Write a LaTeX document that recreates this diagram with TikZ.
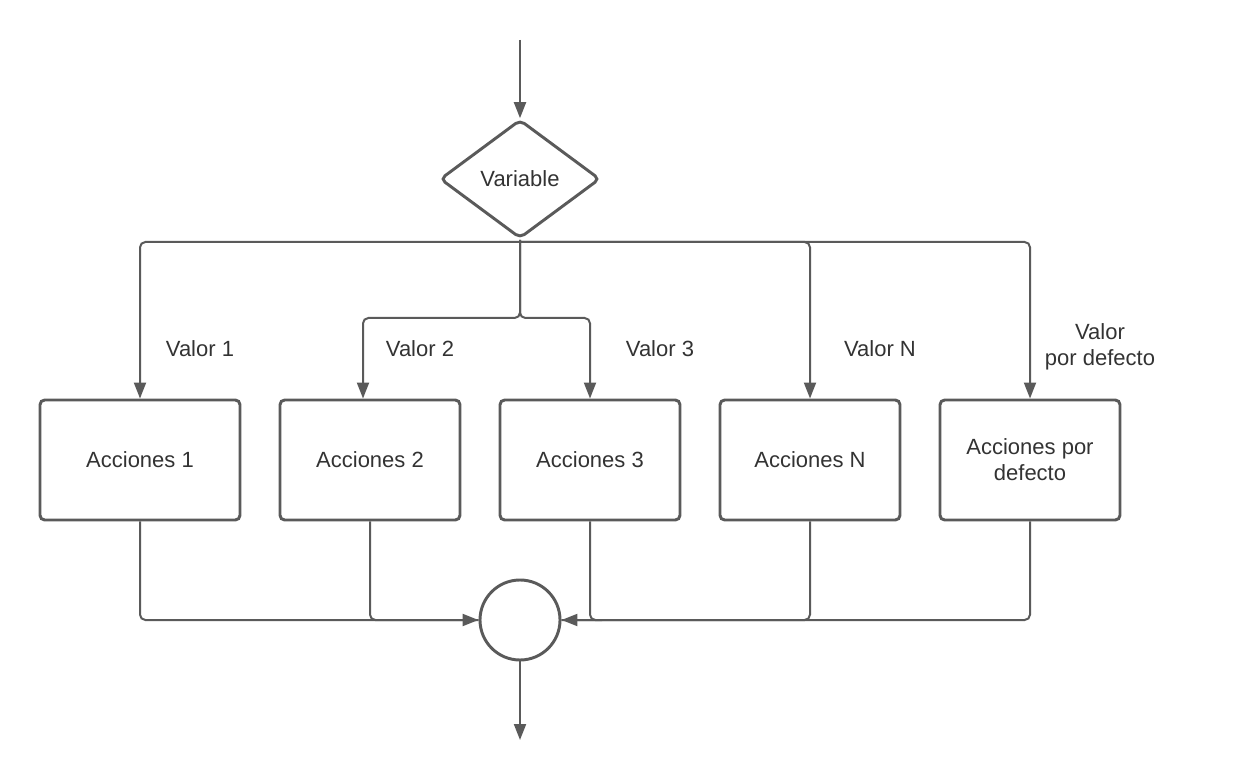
\documentclass[tikz,border=0pt]{standalone}
\usepackage{fontspec}
\setmainfont{Liberation Sans}
\usetikzlibrary{shapes.geometric,arrows.meta,calc}
\definecolor{linegray}{HTML}{5A5A5A}
\definecolor{txtgray}{HTML}{333333}
\begin{document}
\begin{tikzpicture}[x=0.75pt,y=-0.75pt,
  every node/.style={font=\fontsize{16.5}{19.5}\selectfont, text=txtgray},
  conn/.style={draw=linegray, line width=1.5pt, rounded corners=4pt},
  arr/.style={-{Triangle[length=12pt,width=9pt]}},
  actbox/.style={draw=linegray, line width=2.2pt, rounded corners=3.5pt, fill=white,
     minimum height=90pt, minimum width=135pt, align=center, inner sep=0pt},
  decis/.style={diamond, draw=linegray, line width=2.2pt, rounded corners=4pt, fill=white,
     minimum width=120pt, minimum height=89pt, aspect=1.345, inner sep=0pt},
  joinc/.style={circle, draw=linegray, line width=2.2pt, minimum size=60pt, inner sep=0pt, fill=white},
  lbl/.style={align=center, inner sep=0pt}
]
\useasboundingbox (0,0) rectangle (1260,777);

\coordinate (start) at (520,40);
\node[decis] (d) at (520,179) {Variable};

\node[actbox, minimum width=150pt] (b1) at (140,460) {Acciones 1};
\node[actbox] (b2) at (370,460) {Acciones 2};
\node[actbox] (b3) at (590,460) {Acciones 3};
\node[actbox] (bN) at (810,460) {Acciones N};
\node[actbox] (bD) at (1030,460) {Acciones por\\defecto};

\node[joinc] (c) at (520,620) {};
\coordinate (cend) at (520,740);

\coordinate (jt) at (520,242);
\coordinate (jm) at (520,318);
\coordinate (b2in) at ($(b2.north)+(-7,0)$);
\coordinate (b3j) at (602,620);

% top
\draw[conn,arr] (start) -- (d.north);
\draw[conn] (d.south) -- (jt);
\draw[conn,arr] (jt) -| (b1.north);
\draw[conn,arr] (jt) -| (bN.north);
\draw[conn,arr] (jt) -| (bD.north);
\draw[conn,arr] (d.south) -- (jm) -| (b2in);
\draw[conn,arr] (d.south) -- (jm) -| (b3.north);

% bottom
\draw[conn] (b2.south) |- (c.west);
\draw[conn,arr] (b1.south) |- (c.west);
\draw[conn] (b3.south) |- (b3j);
\draw[conn] (bD.south) |- (c.east);
\draw[conn,arr] (bN.south) |- (c.east);
\draw[conn,arr] (c.south) -- (cend);

% labels
\node[lbl] (l1) at (200,349) {Valor 1};
\node[lbl] (l2) at (420,349) {Valor 2};
\node[lbl] (l3) at (660,349) {Valor 3};
\node[lbl] (lN) at (880,349) {Valor N};
\node[lbl] (lD) at (1100,347) {Valor\\por defecto};
\end{tikzpicture}
\end{document}
